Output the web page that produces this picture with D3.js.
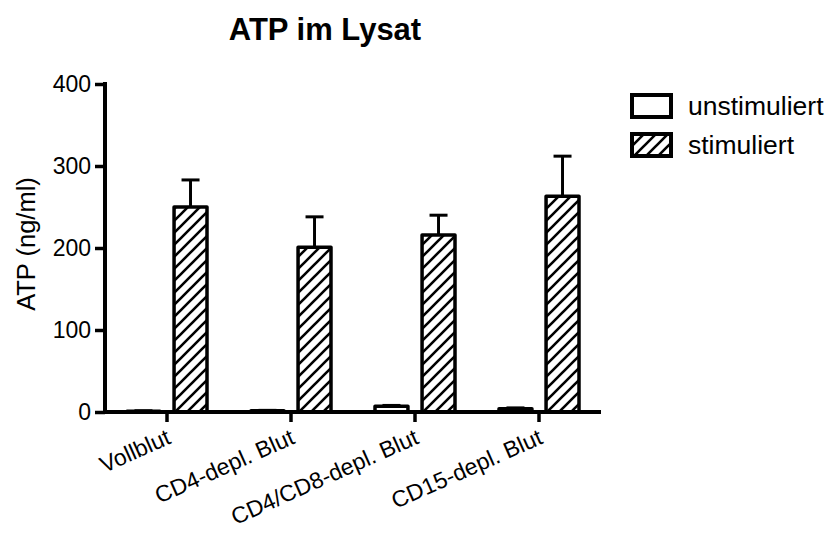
<!DOCTYPE html>
<html>
<head>
<meta charset="utf-8">
<script src="https://cdn.jsdelivr.net/npm/d3@7"></script>
<style>
  html, body { margin: 0; padding: 0; background: #fff; }
  svg { display: block; }
  text { font-family: "Liberation Sans", Arial, sans-serif; fill: #000; }
</style>
</head>
<body>
<svg id="chart" width="831" height="534"></svg>
<script>
// ATP content of lysates, mean and upper SD per sample type
const categories = ["Vollblut", "CD4-depl. Blut", "CD4/CD8-depl. Blut", "CD15-depl. Blut"];
const seriesNames = ["unstimuliert", "stimuliert"];
const unstimMean = [1, 1.5, 7, 4];
const unstimErr = [0.5, 0.5, 1, 1];
const stimMean = [250, 201, 216, 263];
const stimErr = [33, 37, 24, 49];
const yTicks = [0, 100, 200, 300, 400];

const svg = d3.select("#chart");
const margin = { left: 105, right: 230, top: 84, bottom: 122 };
const W = 831, H = 534;

// hatch pattern for the stimulated bars
const defs = svg.append("defs");
const pat = defs.append("pattern")
  .attr("id", "hatch")
  .attr("patternUnits", "userSpaceOnUse")
  .attr("width", 12).attr("height", 12);
pat.append("rect").attr("width", 12).attr("height", 12).attr("fill", "#fff");
pat.append("path")
  .attr("d", "M-3,3 L3,-3 M0,12 L12,0 M9,15 L15,9")
  .attr("stroke", "#000").attr("stroke-width", 2.6);

const x0 = d3.scaleBand()
  .domain(categories)
  .range([margin.left, W - margin.right])
  .paddingInner(0).paddingOuter(0);

const x1 = d3.scaleBand()
  .domain(seriesNames)
  .range([-40, 40])
  .paddingInner(0.3).paddingOuter(0);

const y = d3.scaleLinear().domain([0, 400]).range([H - margin.bottom, margin.top]);

const rows = categories.map((c, i) => ({
  cat: c,
  vals: [
    { s: "unstimuliert", v: unstimMean[i], e: unstimErr[i] },
    { s: "stimuliert", v: stimMean[i], e: stimErr[i] }
  ]
}));

const groups = svg.append("g").selectAll("g")
  .data(rows).join("g")
  .attr("transform", d => `translate(${x0(d.cat) + x0.bandwidth() / 2},0)`);

const bars = groups.selectAll("g.bar")
  .data(d => d.vals).join("g").attr("class", "bar");

// error bars (upper half only)
bars.append("line")
  .attr("x1", d => x1(d.s) + x1.bandwidth() / 2)
  .attr("x2", d => x1(d.s) + x1.bandwidth() / 2)
  .attr("y1", d => y(d.v))
  .attr("y2", d => y(d.v + d.e))
  .attr("stroke", "#000").attr("stroke-width", 3);
bars.append("line")
  .attr("x1", d => x1(d.s) + x1.bandwidth() / 2 - 9)
  .attr("x2", d => x1(d.s) + x1.bandwidth() / 2 + 9)
  .attr("y1", d => y(d.v + d.e))
  .attr("y2", d => y(d.v + d.e))
  .attr("stroke", "#000").attr("stroke-width", 3);

bars.append("rect")
  .attr("x", d => x1(d.s))
  .attr("width", x1.bandwidth())
  .attr("y", d => y(d.v))
  .attr("height", d => y(0) - y(d.v))
  .attr("fill", d => d.s === "stimuliert" ? "url(#hatch)" : "#fff")
  .attr("stroke", "#000").attr("stroke-width", 3.5)
  .attr("stroke-linejoin", "round");

// y axis
const yAxis = svg.append("g")
  .attr("transform", `translate(${margin.left},0)`)
  .call(d3.axisLeft(y).tickValues(yTicks).tickSize(10).tickPadding(4).tickSizeOuter(0));
yAxis.select(".domain").remove();
yAxis.selectAll(".tick line").attr("stroke", "#000").attr("stroke-width", 3.5);
yAxis.selectAll(".tick text").attr("font-size", 23);
yAxis.append("line")
  .attr("x1", 0).attr("x2", 0)
  .attr("y1", y(400) - 2).attr("y2", y(0) + 2)
  .attr("stroke", "#000").attr("stroke-width", 4);

// x axis
const xAxis = svg.append("g")
  .attr("transform", `translate(0,${y(0)})`)
  .call(d3.axisBottom(x0).tickSize(10).tickPadding(0).tickSizeOuter(0));
xAxis.select(".domain").remove();
xAxis.append("line")
  .attr("x1", margin.left - 2).attr("x2", W - margin.right)
  .attr("y1", 0).attr("y2", 0)
  .attr("stroke", "#000").attr("stroke-width", 4);
xAxis.selectAll(".tick line").attr("stroke", "#000").attr("stroke-width", 3.5);
xAxis.selectAll(".tick text")
  .attr("font-size", 23)
  .attr("text-anchor", "end")
  .attr("dy", null)
  .attr("y", 0)
  .attr("transform", "translate(5,31) rotate(-24)");

// title
svg.append("text")
  .attr("x", 325).attr("y", 40)
  .attr("text-anchor", "middle")
  .attr("font-size", 31).attr("font-weight", "bold")
  .text("ATP im Lysat");

// y label
svg.append("text")
  .attr("transform", `translate(35,${(y(0) + y(400)) / 2 - 4}) rotate(-90)`)
  .attr("text-anchor", "middle")
  .attr("font-size", 25.5)
  .text("ATP (ng/ml)");

// legend
const legend = svg.append("g").attr("transform", "translate(632,95)");
const li = legend.selectAll("g").data(seriesNames).join("g")
  .attr("transform", (d, i) => `translate(0,${i * 39})`);
li.append("rect")
  .attr("width", 39).attr("height", 22)
  .attr("fill", d => d === "stimuliert" ? "url(#hatch)" : "#fff")
  .attr("stroke", "#000").attr("stroke-width", 4);
li.append("text")
  .attr("x", 56).attr("y", 11).attr("dy", "0.35em")
  .attr("font-size", 26.5)
  .text(d => d);
</script>
</body>
</html>
